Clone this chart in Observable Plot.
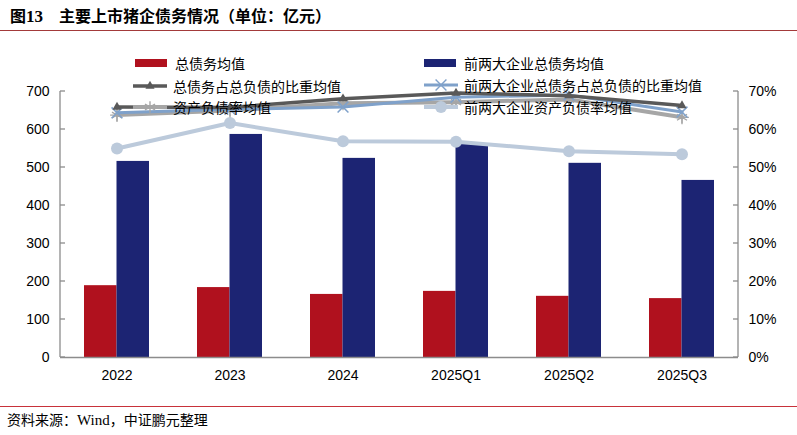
<!DOCTYPE html>
<html>
<head>
<meta charset="utf-8">
<script src="https://cdn.jsdelivr.net/npm/d3@7"></script>
<script src="https://cdn.jsdelivr.net/npm/@observablehq/plot@0.6"></script>
<style>
  html, body { margin: 0; padding: 0; background: #fff; }
  #wrap { position: relative; width: 797px; height: 435px; overflow: hidden; font-family: "Noto Sans CJK SC", sans-serif; }
  #title { position: absolute; left: 10px; top: 4px; font-size: 16px; line-height: 22px; font-weight: 700; color: #000; white-space: nowrap; }
  #title .num { font-family: "Liberation Serif", serif; font-weight: 700; font-size: 17px; }
  #rule1 { position: absolute; left: 0; top: 30px; width: 797px; height: 0; border-top: 1.5px solid #a33a3a; }
  #rule2 { position: absolute; left: 0; top: 405.5px; width: 797px; height: 0; border-top: 1.3px solid #c8323a; }
  #caption { position: absolute; left: 7px; top: 408px; font-size: 14px; line-height: 22px; color: #000; white-space: nowrap; }
  #caption .en { font-family: "Liberation Serif", serif; font-size: 15px; }
  #chart { position: absolute; left: 0; top: 36px; }
  .leg { position: absolute; display: flex; align-items: center; font-size: 14px; line-height: 20px; color: #000; white-space: nowrap; }
  .leg svg { margin-right: 6px; overflow: visible; }
</style>
</head>
<body>
<div id="wrap">
  <div id="title">图<span class="num">13</span>　主要上市猪企债务情况（单位：亿元）</div>
  <div id="rule1"></div>
  <div id="chart"></div>
  <div id="legend"></div>
  <div id="rule2"></div>
  <div id="caption">资料来源：<span class="en">Wind</span>，中证鹏元整理</div>
</div>
<script>
// ---- data ----
const categories = ["2022", "2023", "2024", "2025Q1", "2025Q2", "2025Q3"];
const totalDebt = [189, 184, 166, 174, 161, 155];          // 总债务均值 (亿元)
const top2Debt = [516, 587, 524, 562, 511, 466];           // 前两大企业总债务均值 (亿元)
const debtShare = [65.9, 65.8, 68.1, 69.6, 68.9, 66.3];    // 总债务占总负债的比重均值 (%)
const top2DebtShare = [64.4, 65.3, 65.9, 68.5, 69.1, 64.6];// 前两大企业总债务占总负债的比重均值 (%)
const assetLiab = [63.8, 65.0, 66.9, 67.2, 67.9, 63.2];    // 资产负债率均值 (%)
const top2AssetLiab = [55.0, 61.7, 56.9, 56.8, 54.3, 53.5];// 前两大企业资产负债率均值 (%)
const leftTicks = [0, 100, 200, 300, 400, 500, 600, 700];
const rightTicks = [0, 10, 20, 30, 40, 50, 60, 70];
const seriesNames = ["总债务均值", "前两大企业总债务均值", "总债务占总负债的比重均值", "前两大企业总债务占总负债的比重均值", "资产负债率均值", "前两大企业资产负债率均值"];

// ---- styles ----
const C = {
  red: "#b0111e", navy: "#1c2473",
  dark: "#595959", blue: "#7fa1ca", gray: "#a6a6a6", light: "#bccadb",
  axis: "#8c8c8c"
};

const ratio = leftTicks[leftTicks.length - 1] / rightTicks[rightTicks.length - 1];
const rows = categories.map((c, i) => ({
  cat: c, totalDebt: totalDebt[i], top2Debt: top2Debt[i],
  debtShare: debtShare[i], top2DebtShare: top2DebtShare[i],
  assetLiab: assetLiab[i], top2AssetLiab: top2AssetLiab[i]
}));
const pct = key => d => d[key] * ratio;

const plot = Plot.plot({
  width: 797, height: 370,
  marginTop: 55, marginBottom: 49, marginLeft: 60, marginRight: 59,
  style: { fontFamily: "'Liberation Sans', Arial, sans-serif", fontSize: "14px", color: "#000", background: "transparent", overflow: "visible" },
  x: { type: "band", domain: categories, paddingInner: 0.425, paddingOuter: 0.2125, axis: null },
  y: { domain: [0, 700], axis: null },
  marks: [
    Plot.barY(rows, { x: "cat", y: "totalDebt", fill: C.red, insetRight: 32.5 }),
    Plot.barY(rows, { x: "cat", y: "top2Debt", fill: C.navy, insetLeft: 32.5 }),
    Plot.ruleY([0], { stroke: C.axis, strokeWidth: 1.3 }),
    Plot.axisX({ tickSize: 0, tickPadding: 12.5, fontSize: 14, fill: "#000", label: null }),
    Plot.axisY({ anchor: "left", ticks: leftTicks, tickSize: 0, tickPadding: 11, fill: "#000", fontSize: 14, label: null }),
    Plot.axisY({ anchor: "right", ticks: rightTicks.map(t => t * ratio), tickFormat: d => (d / ratio) + "%", tickSize: 0, tickPadding: 10, fill: "#000", fontSize: 14, label: null }),
    // lines (right axis, %)
    Plot.line(rows, { x: "cat", y: pct("top2AssetLiab"), stroke: C.light, strokeWidth: 4 }),
    Plot.dot(rows, { x: "cat", y: pct("top2AssetLiab"), fill: C.light, r: 6, symbol: "circle" }),
    Plot.line(rows, { x: "cat", y: pct("assetLiab"), stroke: C.gray, strokeWidth: 4 }),
    Plot.dot(rows, { x: "cat", y: pct("assetLiab"), stroke: C.gray, strokeWidth: 1.3, r: 5.5, symbol: "asterisk" }),
    Plot.dot(rows, { x: "cat", y: pct("assetLiab"), stroke: C.gray, strokeWidth: 1.3, r: 4.5, symbol: "plus" }),
    Plot.line(rows, { x: "cat", y: pct("top2DebtShare"), stroke: C.blue, strokeWidth: 3 }),
    Plot.dot(rows, { x: "cat", y: pct("top2DebtShare"), stroke: C.blue, strokeWidth: 1.5, r: 5, symbol: "times" }),
    Plot.line(rows, { x: "cat", y: pct("debtShare"), stroke: C.dark, strokeWidth: 3.5 }),
    Plot.dot(rows, { x: "cat", y: pct("debtShare"), fill: C.dark, r: 3.4, symbol: "triangle" })
  ]
});
document.getElementById("chart").appendChild(plot);

// ---- axis lines and inward ticks, positioned through the plot's scales ----
(() => {
  const xs = plot.scale("x"), ys = plot.scale("y");
  const [x0, x1] = xs.range;
  const yScale = v => ys.apply(v);
  const [yb, yt] = ys.range;
  const svg = d3.select(plot);
  const g = svg.append("g").attr("stroke", C.axis).attr("stroke-width", 1.3).attr("fill", "none");
  g.append("line").attr("x1", x0).attr("x2", x0).attr("y1", yb).attr("y2", yt);
  g.append("line").attr("x1", x1).attr("x2", x1).attr("y1", yb).attr("y2", yt);
  leftTicks.forEach(t => g.append("line").attr("x1", x0).attr("x2", x0 + 5).attr("y1", yScale(t)).attr("y2", yScale(t)));
  rightTicks.forEach(t => g.append("line").attr("x1", x1).attr("x2", x1 - 5).attr("y1", yScale(t * ratio)).attr("y2", yScale(t * ratio)));
})();

// ---- legend (HTML overlay) ----
const legendItems = [
  { name: seriesNames[0], type: "rect", color: C.red, left: 135, cy: 63 },
  { name: seriesNames[1], type: "rect", color: C.navy, left: 424, cy: 63 },
  { name: seriesNames[2], type: "line", color: C.dark, sym: "triangle", fill: true, w: 3.5, left: 133, cy: 86 },
  { name: seriesNames[3], type: "line", color: C.blue, sym: "times", fill: false, w: 3, left: 424, cy: 85 },
  { name: seriesNames[4], type: "line", color: C.gray, sym: "asterisk", fill: false, w: 4, left: 133, cy: 107 },
  { name: seriesNames[5], type: "line", color: C.light, sym: "circle", fill: true, w: 4, left: 424, cy: 107 }
];
const symMap = { triangle: d3.symbolTriangle, times: d3.symbolTimes, asterisk: d3.symbolAsterisk, circle: d3.symbolCircle };
const symR = { triangle: 3.4, times: 5, asterisk: 5.5, circle: 6 };
const legend = d3.select("#legend");
legendItems.forEach(it => {
  const div = legend.append("div").attr("class", "leg")
    .style("left", it.left + "px").style("top", (it.cy - 10) + "px");
  const sw = 34;
  const svg = div.append("svg").attr("width", sw).attr("height", 20);
  if (it.type === "rect") {
    svg.append("rect").attr("x", 0).attr("y", 6).attr("width", 32).attr("height", 8).attr("fill", it.color);
  } else {
    svg.append("line").attr("x1", 0).attr("x2", sw).attr("y1", 10).attr("y2", 10)
      .attr("stroke", it.color).attr("stroke-width", it.w);
    const r = symR[it.sym];
    const p = d3.symbol(symMap[it.sym], Math.PI * r * r)();
    const g = svg.append("path").attr("d", p).attr("transform", `translate(${sw / 2},10)`);
    if (it.fill) g.attr("fill", it.color);
    else g.attr("fill", "none").attr("stroke", it.color).attr("stroke-width", 1.4);
  }
  div.append("span").text(it.name);
});
</script>
</body>
</html>
